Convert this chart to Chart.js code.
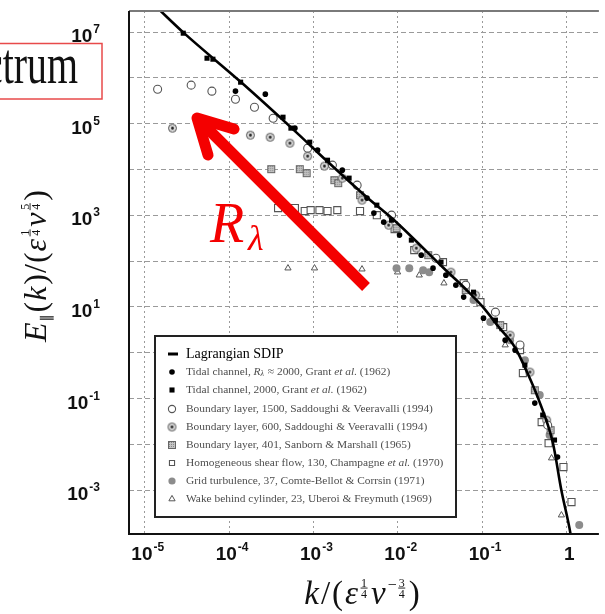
<!DOCTYPE html>
<html>
<head>
<meta charset="utf-8">
<script src="https://cdn.jsdelivr.net/npm/chart.js@4.4.0/dist/chart.umd.min.js"></script>
<style>
  html, body { margin: 0; padding: 0; background: #fff; }
  #wrap { position: relative; width: 605px; height: 614px; overflow: hidden; }
</style>
</head>
<body>
<div id="wrap"><canvas id="espectro" width="605" height="614"></canvas></div>
<script>
// Ejes: límites y marcas (escala logarítmica)
const xMin = 6.5e-6, xMax = 2.43;
const yMin = 1.1e-4, yMax = 2.9e7;
const xTicks = [1e-5, 1e-4, 1e-3, 1e-2, 1e-1, 1];
const xTickExp = ["-5", "-4", "-3", "-2", "-1", null];
const yTicks = [1e-3, 1e-2, 1e-1, 1, 10, 1e2, 1e3, 1e4, 1e5, 1e6, 1e7];
const yLabelTicks = [1e7, 1e5, 1e3, 10, 0.1, 1e-3];
const yTickExp = ["7", "5", "3", "1", "-1", "-3"];

// Curva del modelo
const sdipK = [1.41e-5, 2.88e-5, 1.38e-4, 6.46e-4, 1.38e-3, 4.27e-3, 9.77e-3, 0.0229, 0.0372, 0.0646, 0.102, 0.158, 0.245, 0.347, 0.457, 0.692, 0.871, 1.12, 1.17];
const sdipE = [3.39e7, 9.77e6, 8.13e5, 6.17e4, 1.66e4, 2.51e3, 692, 151, 63.1, 24.0, 10.0, 3.63, 1.32, 0.355, 0.107, 0.0107, 1.0e-3, 1.10e-4, 6.3e-5];

// Datos experimentales
const tidalRK = [1.19e-4, 2.69e-4, 6.03e-4, 1.12e-3, 2.20e-3, 4.32e-3, 5.21e-3, 6.82e-3, 0.0105, 0.0190, 0.0262, 0.0372, 0.0489, 0.0605, 0.104, 0.188, 0.246, 0.422, 0.785];
const tidalRE = [5.15e5, 4.43e5, 8.02e4, 2.65e4, 9.70e3, 2.38e3, 1.12e3, 711, 370, 135, 70.3, 49.4, 29.9, 16.4, 5.69, 1.88, 1.14, 0.0794, 5.26e-3];

const tidalK = [2.86e-5, 5.47e-5, 6.43e-5, 1.37e-4, 4.36e-4, 5.41e-4, 9.04e-4, 1.47e-3, 2.65e-3, 5.65e-3, 8.45e-3, 0.0145, 0.0326, 0.0792, 0.144, 0.322, 0.524, 0.723];
const tidalE = [9.5e6, 2.70e6, 2.57e6, 8.09e5, 1.39e5, 8.02e4, 3.96e4, 1.60e4, 6.49e3, 1.67e3, 785, 288, 95.1, 21.0, 5.15, 0.536, 0.0435, 0.0124];

const bl1500K = [1.42e-5, 3.55e-5, 6.25e-5, 1.19e-4, 2.0e-4, 3.33e-4, 8.55e-4, 1.68e-3, 3.30e-3, 8.45e-3, 0.0284, 0.0640, 0.144, 0.282, 0.600];
const bl1500E = [5.69e5, 6.97e5, 5.15e5, 3.44e5, 2.30e5, 1.32e5, 2.93e4, 1.25e4, 4.56e3, 1.01e3, 116, 29.9, 7.69, 1.47, 0.0262];

const bl600K = [2.13e-5, 1.79e-4, 3.07e-4, 5.26e-4, 8.55e-4, 1.35e-3, 2.20e-3, 3.77e-3, 7.80e-3, 0.0166, 0.0427, 0.0838, 0.215, 0.369, 0.583];
const bl600E = [8.02e4, 5.64e4, 5.09e4, 3.77e4, 1.96e4, 1.19e4, 6.49e3, 2.15e3, 611, 192, 57.5, 18.1, 2.42, 0.377, 0.0337];

const bl401K = [3.16e-4, 6.89e-4, 8.32e-4, 1.77e-3, 1.97e-3, 3.57e-3, 9.68e-3, 0.0230, 0.0640, 0.164, 0.422, 0.650];
const bl401E = [1.02e4, 1.02e4, 8.34e3, 5.87e3, 5.05e3, 2.76e3, 526, 135, 23.3, 4.01, 0.152, 0.0204];

const shearK = [3.81e-4, 6.03e-4, 7.89e-4, 9.27e-4, 1.18e-3, 1.47e-3, 1.92e-3, 3.57e-3, 5.65e-3, 9.18e-3, 0.0157, 0.0344, 0.0605, 0.0957, 0.178, 0.282, 0.305, 0.509, 0.615, 0.923, 1.15];
const shearE = [1.44e3, 1.44e3, 1.24e3, 1.30e3, 1.30e3, 1.24e3, 1.30e3, 1.24e3, 1.01e3, 500, 174, 95.1, 33.1, 12.7, 3.62, 1.14, 0.359, 0.0305, 0.0106, 3.18e-3, 5.47e-4];

const gridK = [9.68e-3, 0.0137, 0.0200, 0.0236, 0.0792, 0.125, 0.215, 0.322, 0.483, 0.632, 1.42];
const gridE = [70.3, 70.3, 63.6, 57.5, 14.1, 4.66, 1.88, 0.689, 0.119, 0.0159, 1.72e-4];

const wakeK = [4.99e-4, 1.03e-3, 3.77e-3, 9.95e-3, 0.0180, 0.0353, 0.188, 0.667, 0.873];
const wakeE = [70.3, 70.3, 66.8, 57.5, 49.4, 33.1, 1.47, 5.00e-3, 2.84e-4];

const serif = '"Liberation Serif", "DejaVu Serif", serif';
const sans = '"Liberation Sans", Arial, sans-serif';
function fuente(tam, italica) { return (italica ? 'italic ' : '') + tam + 'px ' + serif; }

function puntos(ks, es) { return ks.map((k, i) => ({ x: k, y: es[i] })); }

// Marcadores especiales dibujados en pequeños canvas
function marcaCirculoPunto() {
  const c = document.createElement('canvas');
  c.width = 11; c.height = 11;
  const g = c.getContext('2d');
  g.beginPath(); g.arc(5.5, 5.5, 4, 0, Math.PI * 2);
  g.fillStyle = '#d8d8d8'; g.fill();
  g.strokeStyle = '#555'; g.lineWidth = 1; g.stroke();
  g.beginPath(); g.arc(5.5, 5.5, 1.4, 0, Math.PI * 2);
  g.fillStyle = '#222'; g.fill();
  return c;
}
function marcaCuadroRayado() {
  const c = document.createElement('canvas');
  c.width = 10; c.height = 10;
  const g = c.getContext('2d');
  g.fillStyle = '#c4c4c4'; g.fillRect(1, 1, 8, 8);
  g.fillStyle = '#888';
  for (let i = 2; i < 9; i += 2) for (let j = 2; j < 9; j += 2) g.fillRect(i, j, 1, 1);
  g.strokeStyle = '#666'; g.lineWidth = 1; g.strokeRect(1.5, 1.5, 7, 7);
  return c;
}

const series = [
  { label: 'Lagrangian SDIP', data: puntos(sdipK, sdipE), showLine: true, pointRadius: 0,
    borderColor: '#000', borderWidth: 2.6, cubicInterpolationMode: 'monotone' },
  { label: 'Tidal channel, Rλ ≈ 2000, Grant et al. (1962)', data: puntos(tidalRK, tidalRE),
    pointStyle: 'circle', pointRadius: 2.8, backgroundColor: '#000', borderColor: '#000', borderWidth: 0 },
  { label: 'Tidal channel, 2000, Grant et al. (1962)', data: puntos(tidalK, tidalE),
    pointStyle: 'rect', pointRadius: 3.6, backgroundColor: '#000', borderColor: '#000', borderWidth: 0 },
  { label: 'Boundary layer, 1500, Saddoughi & Veeravalli (1994)', data: puntos(bl1500K, bl1500E),
    pointStyle: 'circle', pointRadius: 4, backgroundColor: '#fff', borderColor: '#555', borderWidth: 1.1 },
  { label: 'Boundary layer, 600, Saddoughi & Veeravalli (1994)', data: puntos(bl600K, bl600E),
    pointStyle: marcaCirculoPunto(), pointRadius: 4 },
  { label: 'Boundary layer, 401, Sanborn & Marshall (1965)', data: puntos(bl401K, bl401E),
    pointStyle: marcaCuadroRayado(), pointRadius: 4 },
  { label: 'Homogeneous shear flow, 130, Champagne et al. (1970)', data: puntos(shearK, shearE),
    pointStyle: 'rect', pointRadius: 5, backgroundColor: '#fff', borderColor: '#555', borderWidth: 1.1 },
  { label: 'Grid turbulence, 37, Comte-Bellot & Corrsin (1971)', data: puntos(gridK, gridE),
    pointStyle: 'circle', pointRadius: 4, backgroundColor: '#8c8c8c', borderColor: '#8c8c8c', borderWidth: 0 },
  { label: 'Wake behind cylinder, 23, Uberoi & Freymuth (1969)', data: puntos(wakeK, wakeE),
    pointStyle: 'triangle', pointRadius: 3.6, backgroundColor: '#fff', borderColor: '#555', borderWidth: 1 }
];

// Texto matemático sencillo: piezas normales, cursivas, sub/superíndices y fracciones
function anchoMath(ctx, piezas) {
  let w = 0;
  for (const p of piezas) {
    if (p.fr) {
      ctx.font = fuente(p.s, false);
      p.w = Math.max(ctx.measureText(p.fr[0]).width, ctx.measureText(p.fr[1]).width) + 2;
    } else {
      ctx.font = fuente(p.s, p.it);
      p.w = ctx.measureText(p.t).width;
    }
    w += p.w + (p.esp || 0);
  }
  return w;
}
function dibujarMath(ctx, piezas, x, y) {
  ctx.textBaseline = 'alphabetic';
  for (const p of piezas) {
    const base = y + (p.dy || 0);
    if (p.fr) {
      ctx.font = fuente(p.s, false);
      ctx.textAlign = 'center';
      const cx = x + p.w / 2;
      ctx.fillText(p.fr[0], cx, base - 1.5);
      ctx.fillText(p.fr[1], cx, base + p.s * 0.7 + 1.5);
      ctx.fillRect(x + 0.5, base - 0.4, p.w - 1, 0.9);
    } else {
      ctx.font = fuente(p.s, p.it);
      ctx.textAlign = 'left';
      ctx.fillText(p.t, x, base);
    }
    x += p.w + (p.esp || 0);
  }
}

const tituloY = [
  { t: 'E', it: true, s: 32, esp: 1 }, { t: '∥', s: 15, dy: 6, esp: 2 },
  { t: '(', s: 32, esp: 1 }, { t: 'k', it: true, s: 32, esp: 2 }, { t: ')', s: 32, esp: 1 }, { t: '/', s: 32, esp: 1 }, { t: '(', s: 32, esp: 1 },
  { t: 'ε', it: true, s: 32, esp: 2 }, { fr: ['1', '4'], s: 12, dy: -16, esp: 2 },
  { t: 'ν', it: true, s: 32, esp: 2 }, { fr: ['5', '4'], s: 12, dy: -16, esp: 2 },
  { t: ')', s: 32 }
];
const tituloX = [
  { t: 'k', it: true, s: 33, esp: 2 }, { t: '/', s: 33, esp: 2 }, { t: '(', s: 33, esp: 2 },
  { t: 'ε', it: true, s: 33, esp: 2 }, { fr: ['1', '4'], s: 12, dy: -16, esp: 3 },
  { t: 'ν', it: true, s: 33, esp: 2 }, { t: '−', s: 16, dy: -14, esp: 1 }, { fr: ['3', '4'], s: 12, dy: -16, esp: 3 },
  { t: ')', s: 33 }
];

function etiquetaPotencia(ctx, exp, x, y, alinear) {
  const base = exp === null ? '1' : '10';
  ctx.font = 'bold 19px ' + sans;
  const wb = ctx.measureText(base).width;
  ctx.font = 'bold 12px ' + sans;
  const we = exp === null ? 0 : ctx.measureText(exp).width + 1;
  const x0 = alinear === 'right' ? x - wb - we : x - (wb + we) / 2;
  ctx.textAlign = 'left';
  ctx.textBaseline = 'alphabetic';
  ctx.font = 'bold 19px ' + sans;
  ctx.fillText(base, x0, y);
  if (exp !== null) {
    ctx.font = 'bold 12px ' + sans;
    ctx.fillText(exp, x0 + wb + 1, y - 9);
  }
}

function textoLeyenda(ctx, texto, x, y, tam) {
  // "et al." en cursiva, Rλ con subíndice
  const trozos = texto.split(/(et al\.|Rλ)/);
  for (const tr of trozos) {
    if (!tr) continue;
    if (tr === 'Rλ') {
      ctx.font = fuente(tam, true);
      ctx.fillText('R', x, y);
      x += ctx.measureText('R').width;
      ctx.font = fuente(tam * 0.7, true);
      ctx.fillText('λ', x, y + 2);
      x += ctx.measureText('λ').width + 1;
    } else {
      ctx.font = fuente(tam, tr === 'et al.');
      ctx.fillText(tr, x, y);
      x += ctx.measureText(tr).width;
    }
  }
}

const adornos = {
  id: 'adornos',
  afterDraw(chart) {
    const ctx = chart.ctx;
    const a = chart.chartArea;
    const sx = chart.scales.x, sy = chart.scales.y;
    ctx.save();

    // Marco del área de datos
    ctx.strokeStyle = '#7a7a7a'; ctx.lineWidth = 2;
    ctx.beginPath(); ctx.moveTo(a.left, a.top); ctx.lineTo(a.right, a.top); ctx.stroke();
    ctx.strokeStyle = '#111'; ctx.lineWidth = 2;
    ctx.beginPath(); ctx.moveTo(a.left, a.top); ctx.lineTo(a.left, a.bottom); ctx.lineTo(a.right, a.bottom); ctx.stroke();

    // Etiquetas de los ejes
    ctx.fillStyle = '#111';
    xTicks.forEach((v, i) => etiquetaPotencia(ctx, xTickExp[i], sx.getPixelForValue(v) + 3, a.bottom + 26, 'center'));
    yLabelTicks.forEach((v, i) => etiquetaPotencia(ctx, yTickExp[i], a.left - 29, sy.getPixelForValue(v) + 10, 'right'));

    // Títulos
    ctx.fillStyle = '#111';
    const wX = anchoMath(ctx, tituloX);
    dibujarMath(ctx, tituloX, 362 - wX / 2, 604);
    const wY = anchoMath(ctx, tituloY);
    ctx.save();
    ctx.translate(46, 266);
    ctx.rotate(-Math.PI / 2);
    dibujarMath(ctx, tituloY, -wY / 2, 0);
    ctx.restore();

    // Leyenda
    const lx = 155, ly = 336, lw = 301, lh = 181;
    ctx.fillStyle = '#fff';
    ctx.fillRect(lx, ly, lw, lh);
    ctx.strokeStyle = '#222'; ctx.lineWidth = 2;
    ctx.strokeRect(lx, ly, lw, lh);
    const filas = [354, 372, 390, 409, 427, 445, 463, 481, 499];
    chart.data.datasets.forEach((ds, i) => {
      const y = filas[i];
      if (i === 0) {
        ctx.fillStyle = '#000';
        ctx.fillRect(168, y - 1.5, 10, 3);
        ctx.font = fuente(14, false);
        ctx.textAlign = 'left'; ctx.textBaseline = 'middle';
        ctx.fillText(ds.label, 186, y);
        return;
      }
      ctx.fillStyle = ds.backgroundColor || '#000';
      ctx.strokeStyle = ds.borderColor || '#000';
      ctx.lineWidth = ds.borderWidth || 0;
      Chart.helpers.drawPoint(ctx, {
        pointStyle: ds.pointStyle, radius: Math.min(ds.pointRadius, 3.6),
        rotation: 0, borderWidth: ds.borderWidth || 0
      }, 172, y);
      ctx.fillStyle = '#4d4d4d';
      ctx.textAlign = 'left'; ctx.textBaseline = 'middle';
      textoLeyenda(ctx, ds.label, 186, y, 11.4);
    });

    // Recuadro con el título recortado
    ctx.strokeStyle = '#e84a4a'; ctx.lineWidth = 1.5;
    ctx.strokeRect(-10, 43.5, 112, 55.5);
    ctx.fillStyle = '#111';
    ctx.save();
    ctx.translate(78, 83);
    ctx.scale(0.7, 1);
    ctx.font = fuente(57, false);
    ctx.textAlign = 'right'; ctx.textBaseline = 'alphabetic';
    ctx.fillText('Spectrum', 0, 0);
    ctx.restore();

    // Flecha roja y R_λ
    ctx.strokeStyle = '#f40000'; ctx.lineWidth = 11;
    ctx.lineCap = 'butt';
    ctx.beginPath(); ctx.moveTo(366, 287); ctx.lineTo(200, 121); ctx.stroke();
    ctx.lineCap = 'round'; ctx.lineJoin = 'round';
    ctx.beginPath(); ctx.moveTo(234, 129); ctx.lineTo(197, 118); ctx.lineTo(208, 155); ctx.stroke();
    ctx.fillStyle = '#f40000';
    ctx.textAlign = 'left'; ctx.textBaseline = 'alphabetic';
    ctx.font = fuente(56, true);
    ctx.fillText('R', 210, 242);
    ctx.font = fuente(36, true);
    ctx.fillText('λ', 248, 250);
    ctx.restore();
  }
};

new Chart(document.getElementById('espectro'), {
  type: 'scatter',
  data: { datasets: series },
  options: {
    responsive: false,
    animation: false,
    devicePixelRatio: 1,
    layout: { padding: { left: 129, top: 11, right: 0, bottom: 80 } },
    plugins: { legend: { display: false }, tooltip: { enabled: false } },
    scales: {
      x: {
        type: 'logarithmic', min: xMin, max: xMax,
        ticks: { display: false },
        grid: { color: '#9a9a9a', lineWidth: 1, drawTicks: false },
        border: { display: false, dash: [2, 3] },
        afterBuildTicks: s => { s.ticks = xTicks.map(v => ({ value: v })); }
      },
      y: {
        type: 'logarithmic', min: yMin, max: yMax,
        ticks: { display: false },
        grid: { color: '#9a9a9a', lineWidth: 1, drawTicks: false },
        border: { display: false, dash: [5, 3] },
        afterBuildTicks: s => { s.ticks = yTicks.map(v => ({ value: v })); }
      }
    }
  },
  plugins: [adornos]
});
</script>
</body>
</html>
